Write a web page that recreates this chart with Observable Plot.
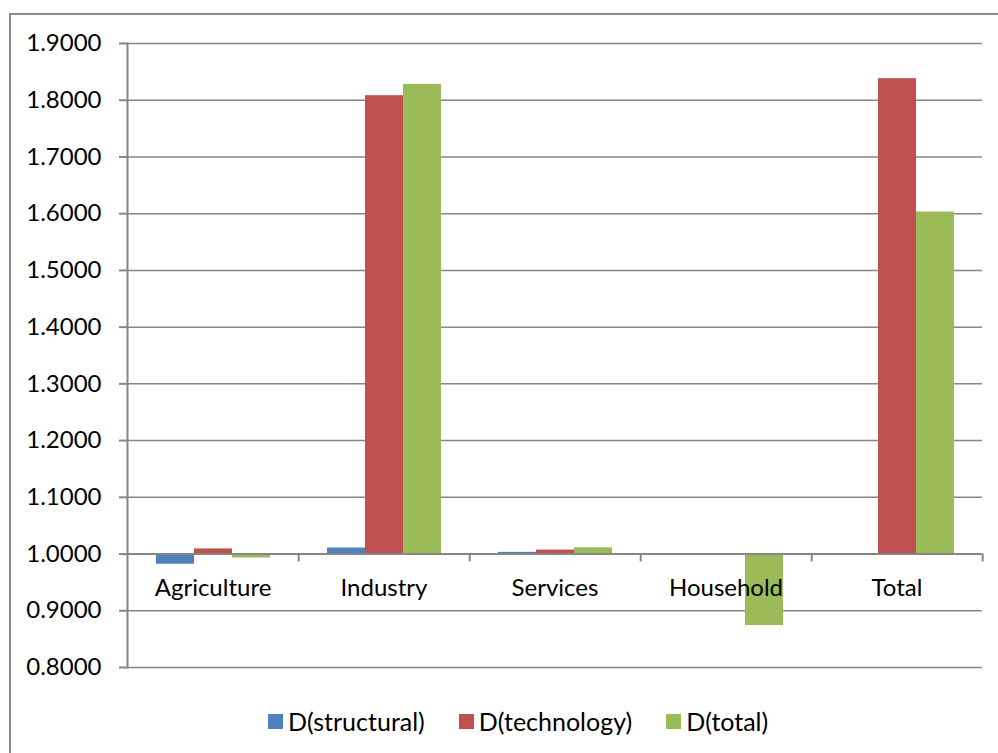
<!DOCTYPE html>
<html>
<head>
<meta charset="utf-8">
<script src="https://cdn.jsdelivr.net/npm/d3@7"></script>
<script src="https://cdn.jsdelivr.net/npm/@observablehq/plot@0.6"></script>
<style>
  html, body { margin: 0; padding: 0; background: #fff; overflow: hidden; }
  #wrap { position: relative; width: 998px; height: 753px; overflow: hidden; font-family: Lato, "Open Sans", sans-serif; }
  #border { position: absolute; left: 9px; top: 13px; width: 1200px; height: 1000px; border: 2px solid #8c8c8c; box-sizing: border-box; }
  #chart { position: absolute; left: 0; top: 0; }
  #legend { position: absolute; top: 706px; left: 268px; display: flex; align-items: center; font-size: 25px; color: #000; }
  .item { display: flex; align-items: center; margin-right: 34px; }
  .sw { width: 15px; height: 15px; margin-right: 5px; }
</style>
</head>
<body>
<div id="wrap">
  <div id="border"></div>
  <div id="chart"></div>
  <div id="legend"></div>
</div>
<script>
const categories = ["Agriculture", "Industry", "Services", "Household", "Total"];
const seriesNames = ["D(structural)", "D(technology)", "D(total)"];
const structural = [0.982, 1.0106, 1.003, 1.0000, 0.999];
const technology = [1.009, 1.808, 1.007, 1.0000, 1.838];
const total      = [0.993, 1.828, 1.011, 0.874, 1.603];
const colors = ["#4F81BD", "#C0504D", "#9BBB59"];
const yTicks = [0.8, 0.9, 1.0, 1.1, 1.2, 1.3, 1.4, 1.5, 1.6, 1.7, 1.8, 1.9];
const baseline = 1.0;

const seriesValues = [structural, technology, total];
const data = [];
categories.forEach((c, i) => {
  seriesNames.forEach((s, j) => data.push({category: c, series: s, value: seriesValues[j][i]}));
});

const W = 998, H = 690;
const mL = 126, mR = 15, mT = 43, mB = 23;
const facetW = (W - mL - mR) / categories.length;
const grid = "#868686";

const plot = Plot.plot({
  width: W,
  height: H,
  marginLeft: mL,
  marginRight: mR,
  marginTop: mT,
  marginBottom: mB,
  style: {fontFamily: "Lato, 'Open Sans', sans-serif", fontSize: "24px", color: "#000", background: "transparent"},
  fx: {domain: categories, padding: 0, axis: null},
  x: {domain: seriesNames, paddingInner: 0, paddingOuter: 0.75, axis: null},
  y: {domain: [0.8, 1.9], ticks: yTicks, tickFormat: d3.format(".4f"), tickSize: 8, tickPadding: 18, label: null},
  color: {domain: seriesNames, range: colors},
  marks: [
    Plot.ruleY(yTicks, {stroke: grid, strokeWidth: 1.5}),
    Plot.barY(data, {fx: "category", x: "series", y1: baseline, y2: "value", fill: "series"}),
    Plot.ruleY([baseline], {stroke: grid, strokeWidth: 2}),
    Plot.ruleX(categories, {fx: d => d, x: null, y1: baseline, y2: 0.986, dx: facetW / 2, stroke: grid, strokeWidth: 2}),
    Plot.frame({anchor: "left", facetAnchor: "left", stroke: grid, strokeWidth: 2}),
    Plot.text(categories, {fx: d => d, y: () => baseline, text: d => d, dy: 34, fill: "#000", fontSize: 24}),
    Plot.axisY({ticks: yTicks, tickFormat: d3.format(".4f"), tickSize: 8, tickPadding: 18, stroke: grid, strokeWidth: 2, fill: "#000", fontSize: 24, facetAnchor: "left"})
  ]
});
document.getElementById("chart").appendChild(plot);

const legend = document.getElementById("legend");
seriesNames.forEach((s, j) => {
  const item = document.createElement("div");
  item.className = "item";
  const sw = document.createElement("div");
  sw.className = "sw";
  sw.style.background = colors[j];
  const t = document.createElement("span");
  t.textContent = s;
  item.appendChild(sw);
  item.appendChild(t);
  legend.appendChild(item);
});
</script>
</body>
</html>
